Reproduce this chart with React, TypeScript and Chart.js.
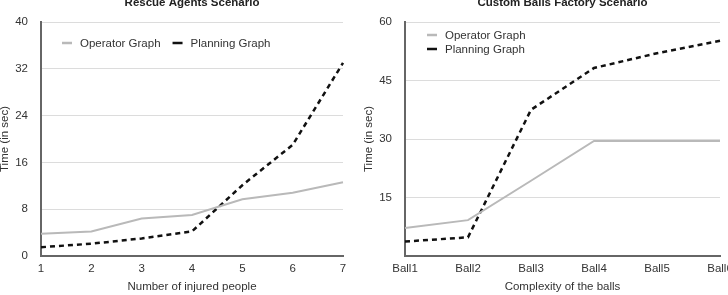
import React, { useEffect, useRef } from "react";
import { Chart, registerables } from "chart.js";

Chart.register(...registerables);

// ---- data ----
const rescueTitle = "Rescue Agents Scenario";
const rescueXTitle = "Number of injured people";
const rescueLabels = ["1", "2", "3", "4", "5", "6", "7"];
const rescueOperator = [3.8, 4.2, 6.4, 7.0, 9.7, 10.8, 12.6];
const rescuePlanning = [1.5, 2.1, 3.0, 4.2, 12.1, 19.0, 33.0];
const rescueYTicks = [0, 8, 16, 24, 32, 40];

const ballsTitle = "Custom Balls Factory Scenario";
const ballsXTitle = "Complexity of the balls";
const ballsLabels = ["Ball1", "Ball2", "Ball3", "Ball4", "Ball5", "Ball6"];
const ballsOperator = [7.2, 9.2, 19.3, 29.5, 29.5, 29.5];
const ballsPlanning = [3.7, 4.8, 37.5, 48.2, 52.0, 55.2];
const ballsYTicks = [15, 30, 45, 60];

const yTitle = "Time (in sec)";
const seriesNames = ["Operator Graph", "Planning Graph"];

const FONT = "'Liberation Sans', Arial, sans-serif";
const OP_COLOR = "#b9b9b9";
const PL_COLOR = "#111111";

type LegendCfg = { dx: number; dy: number; rowGap: number; horizontal: boolean; gapBetween: number };

const overlayPlugin = {
  id: "overlay",
  afterDraw(chart: any) {
    const o = chart.options.plugins.overlay;
    if (!o) return;
    const { ctx, chartArea } = chart;
    ctx.save();
    // title
    ctx.font = `bold 11.5px ${FONT}`;
    ctx.fillStyle = "#222";
    ctx.textAlign = "center";
    ctx.textBaseline = "alphabetic";
    ctx.fillText(o.title, (chartArea.left + chartArea.right) / 2, 5.5);
    // legend
    const lg: LegendCfg = o.legend;
    ctx.font = `11.5px ${FONT}`;
    ctx.textAlign = "left";
    ctx.textBaseline = "middle";
    let x = chartArea.left + lg.dx;
    let y = chartArea.top + lg.dy;
    chart.data.datasets.forEach((ds: any, i: number) => {
      ctx.strokeStyle = ds.borderColor;
      ctx.lineWidth = 2.5;
      ctx.setLineDash([]);
      ctx.beginPath();
      ctx.moveTo(x, y);
      ctx.lineTo(x + 10, y);
      ctx.stroke();
      ctx.fillStyle = "#333";
      ctx.fillText(ds.label, x + 18, y + 0.5);
      if (lg.horizontal) {
        x += 18 + ctx.measureText(ds.label).width + lg.gapBetween;
      } else {
        y += lg.rowGap;
      }
    });
    ctx.restore();
  },
};

function makeConfig(
  labels: string[],
  op: number[],
  pl: number[],
  yMax: number,
  step: number,
  shownTicks: number[],
  title: string,
  xTitle: string,
  rightPad: number,
  legend: LegendCfg
): any {
  return {
    type: "line",
    data: {
      labels,
      datasets: [
        {
          label: seriesNames[0],
          data: op,
          borderColor: OP_COLOR,
          backgroundColor: OP_COLOR,
          borderWidth: 2,
          pointRadius: 0,
          tension: 0,
        },
        {
          label: seriesNames[1],
          data: pl,
          borderColor: PL_COLOR,
          backgroundColor: PL_COLOR,
          borderWidth: 2.5,
          borderDash: [5, 4],
          pointRadius: 0,
          tension: 0,
        },
      ],
    },
    options: {
      animation: false,
      responsive: false,
      maintainAspectRatio: false,
      layout: { padding: { left: 0, top: 22, right: rightPad, bottom: 0 } },
      plugins: {
        legend: { display: false },
        tooltip: { enabled: false },
        title: { display: false },
        overlay: { title, legend },
      },
      scales: {
        x: {
          type: "category",
          offset: false,
          grid: { display: false, drawTicks: false },
          border: { display: true, color: "#666", width: 2 },
          ticks: {
            padding: 6,
            color: "#333",
            font: { family: FONT, size: 11.5 },
            maxRotation: 0,
            autoSkip: false,
          },
          title: {
            display: true,
            text: xTitle,
            color: "#333",
            font: { family: FONT, size: 11.5 },
            padding: { top: 0, bottom: 1 },
          },
          afterFit(scale: any) {
            scale.height = 39;
            scale.paddingLeft = 0;
            scale.paddingRight = 0;
          },
        },
        y: {
          min: 0,
          max: yMax,
          grid: { color: "#dcdcdc", lineWidth: 1, drawTicks: false },
          border: { display: true, color: "#666", width: 2 },
          ticks: {
            stepSize: step,
            padding: 13,
            color: "#333",
            font: { family: FONT, size: 11.5 },
            callback: (v: number) => (shownTicks.includes(v) ? String(v) : ""),
          },
          title: {
            display: true,
            text: yTitle,
            color: "#333",
            font: { family: FONT, size: 11.5 },
            padding: { top: -2, bottom: 0 },
          },
          afterFit(scale: any) {
            scale.width = 41;
          },
        },
      },
    },
    plugins: [overlayPlugin],
  };
}

function LineCanvas({ config, left }: { config: any; left: number }) {
  const ref = useRef<HTMLCanvasElement | null>(null);
  useEffect(() => {
    if (!ref.current) return;
    const chart = new Chart(ref.current, config);
    return () => chart.destroy();
  }, [config]);
  return (
    <canvas
      ref={ref}
      width={364}
      height={295}
      style={{ position: "absolute", left, top: 0, width: 364, height: 295 }}
    />
  );
}

const leftConfig = makeConfig(
  rescueLabels,
  rescueOperator,
  rescuePlanning,
  40,
  8,
  rescueYTicks,
  rescueTitle,
  rescueXTitle,
  21,
  { dx: 21, dy: 21, rowGap: 0, horizontal: true, gapBetween: 12 }
);

const rightConfig = makeConfig(
  ballsLabels,
  ballsOperator,
  ballsPlanning,
  60,
  15,
  ballsYTicks,
  ballsTitle,
  ballsXTitle,
  8,
  { dx: 22, dy: 13, rowGap: 14, horizontal: false, gapBetween: 0 }
);

export default function App() {
  return (
    <div
      style={{
        position: "fixed",
        left: 0,
        top: 0,
        width: 728,
        height: 295,
        overflow: "hidden",
        background: "#fff",
      }}
    >
      <LineCanvas config={leftConfig} left={0} />
      <LineCanvas config={rightConfig} left={364} />
    </div>
  );
}
